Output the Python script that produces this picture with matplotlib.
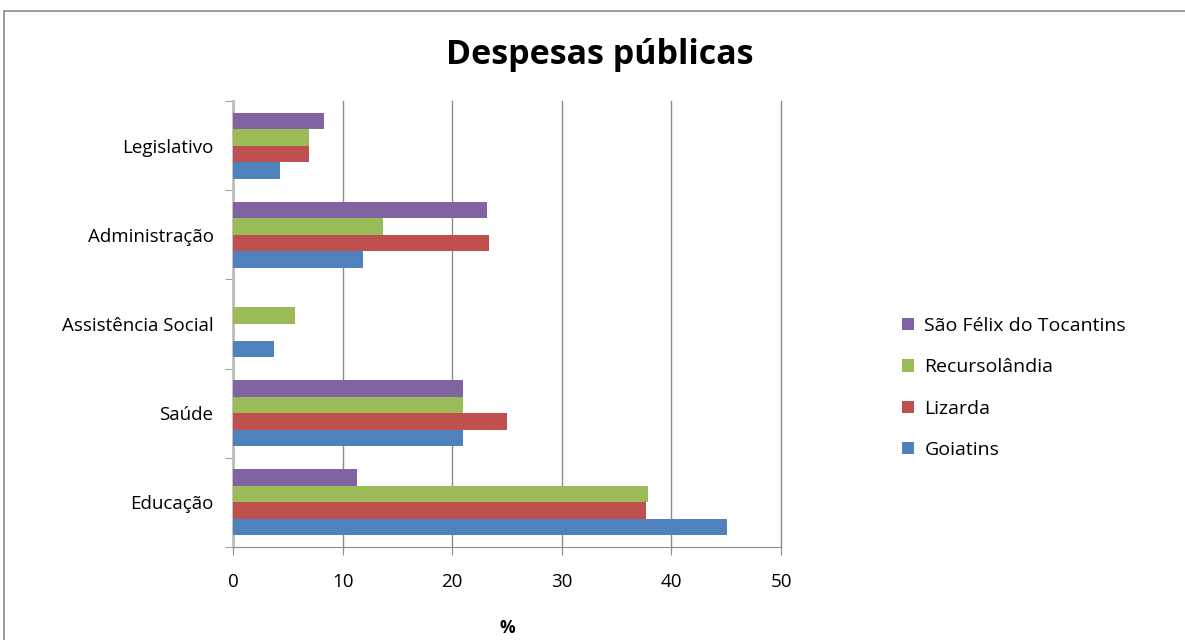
import numpy as np
import matplotlib.pyplot as plt
from matplotlib.patches import Rectangle

categories = ['Educação', 'Saúde', 'Assistência Social', 'Administração', 'Legislativo']
series_names = ['Goiatins', 'Lizarda', 'Recursolândia', 'São Félix do Tocantins']
goiatins = [45.1, 21.0, 3.7, 11.9, 4.3]
lizarda = [37.7, 25.0, 0.0, 23.4, 6.9]
recursolandia = [37.9, 21.0, 5.7, 13.7, 6.9]
sao_felix = [11.3, 21.0, 0.0, 23.2, 8.3]
colors = ['#4F81BD', '#C0504D', '#9BBB59', '#8064A2']

plt.rcParams['font.family'] = ['Open Sans', 'DejaVu Sans']

fig = plt.figure(figsize=(11.85, 6.4), dpi=100)
ax = fig.add_axes([233/1185, 1 - 547/640, (781 - 233)/1185, (547 - 101)/640])

# moldura do gráfico
fig.patches.append(Rectangle((4/1185, -0.05), 1.2, 1 - 11/640 + 0.05,
                             transform=fig.transFigure, fill=False,
                             edgecolor='#8c8c8c', linewidth=1.2))

y = np.arange(len(categories))
h = 0.185
allvals = [goiatins, lizarda, recursolandia, sao_felix]
for i, (vals, name, c) in enumerate(zip(allvals, series_names, colors)):
    ax.barh(y + (i - 1.5) * h, vals, height=h, color=c, label=name, zorder=3)

ax.set_xlim(0, 50)
ax.set_ylim(-0.5, len(categories) - 0.5)
ax.set_xticks(range(0, 51, 10))
ax.set_yticks(y)
ax.set_yticklabels(categories)
ax.set_yticks(np.arange(-0.5, len(categories), 1), minor=True)
ax.tick_params(axis='y', which='major', length=0, pad=14, labelsize=13.5)
ax.tick_params(axis='y', which='minor', length=6, color='#8c8c8c')
ax.tick_params(axis='x', length=6, color='#8c8c8c', pad=13, labelsize=13.5)
ax.grid(axis='x', color='#8c8c8c', linewidth=1, zorder=0)
for line in ax.get_xgridlines():
    line.set_clip_on(False)
for s in ['top', 'right']:
    ax.spines[s].set_visible(False)
ax.spines['left'].set_color('#bfbfbf')
ax.spines['left'].set_linewidth(2)
ax.spines['bottom'].set_color('#8c8c8c')

ax.set_xlabel('%', fontsize=12.5, fontweight='bold', labelpad=20)
fig.text(600/1185, 1 - 55/640, 'Despesas públicas', ha='center', va='center',
         fontsize=24.5, fontweight='bold')

handles, labels = ax.get_legend_handles_labels()
ax.legend(handles[::-1], labels[::-1], loc='center left',
          bbox_to_anchor=(884/1185, 1 - 388/640), bbox_transform=fig.transFigure,
          frameon=False, fontsize=14, handlelength=0.62, handleheight=0.62,
          labelspacing=1.2, handletextpad=0.55)

fig.savefig('out.png', dpi=100)
